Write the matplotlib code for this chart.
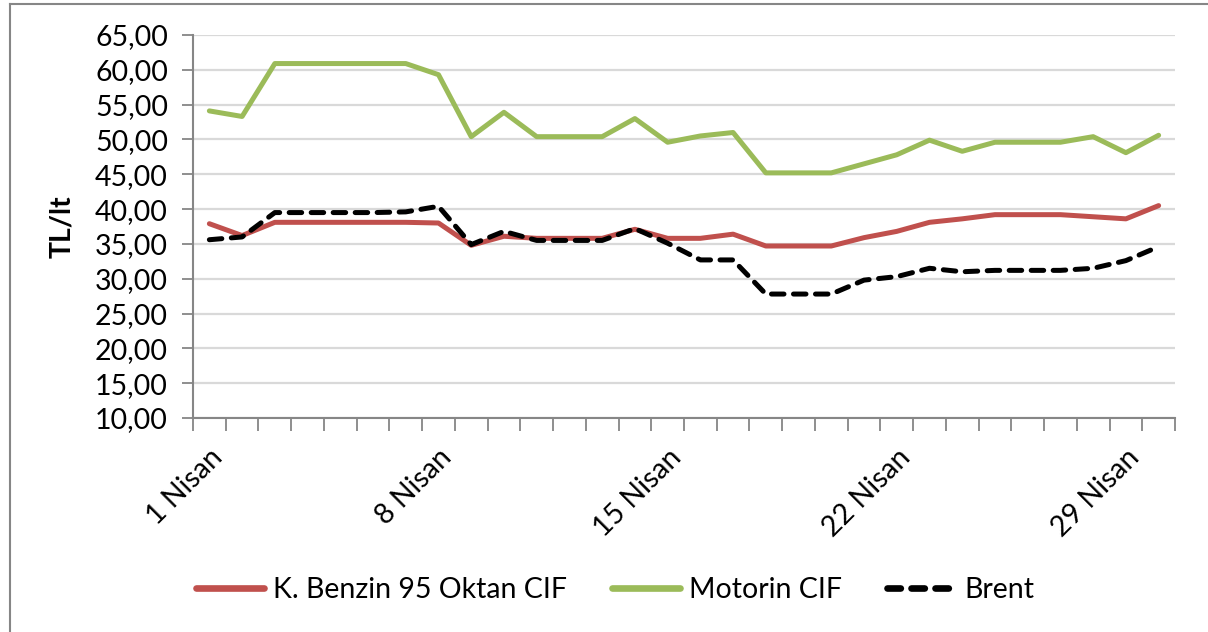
import matplotlib
matplotlib.use('Agg')
import matplotlib.pyplot as plt
from matplotlib.lines import Line2D
import numpy as np

# Data (TL/lt, 1-30 Nisan)
days = list(range(1, 31))
benzin = [37.9, 36.2, 38.1, 38.1, 38.1, 38.1, 38.1, 38.0, 34.8, 36.1,
          35.8, 35.8, 35.8, 37.1, 35.8, 35.8, 36.4, 34.7, 34.7, 34.7,
          35.9, 36.8, 38.1, 38.6, 39.2, 39.2, 39.2, 38.9, 38.6, 40.5]
motorin = [54.1, 53.3, 60.9, 60.9, 60.9, 60.9, 60.9, 59.3, 50.4, 53.9,
           50.4, 50.4, 50.4, 53.0, 49.6, 50.5, 51.0, 45.2, 45.2, 45.2,
           46.5, 47.8, 49.9, 48.3, 49.6, 49.6, 49.6, 50.4, 48.1, 50.6]
brent = [35.6, 36.0, 39.5, 39.5, 39.5, 39.5, 39.6, 40.4, 34.9, 36.8,
         35.5, 35.5, 35.5, 37.2, 35.1, 32.7, 32.7, 27.8, 27.8, 27.8,
         29.8, 30.3, 31.5, 31.0, 31.2, 31.2, 31.2, 31.5, 32.6, 34.6]
label_days = [1, 8, 15, 22, 29]
y_ticks = [10, 15, 20, 25, 30, 35, 40, 45, 50, 55, 60, 65]

plt.rcParams['font.family'] = ['Lato', 'DejaVu Sans']
FS = 20.5
AXIS_GRAY = '#868686'
GRID_GRAY = '#d9d9d9'

fig = plt.figure(figsize=(12.08, 6.32), dpi=100)
ax = fig.add_axes([193 / 1208, 1 - 418 / 632, 982 / 1208, 383 / 632])

x = np.arange(len(days))
ax.plot(x, benzin, color='#C0504D', lw=3.6, solid_capstyle='round',
        solid_joinstyle='round', label='K. Benzin 95 Oktan CIF', zorder=3)
ax.plot(x, motorin, color='#9BBB59', lw=3.6, solid_capstyle='round',
        solid_joinstyle='round', label='Motorin CIF', zorder=3)
ax.plot(x, brent, color='black', lw=3.6, dashes=(2.5, 1.9),
        dash_capstyle='round', label='Brent', zorder=4)

ax.set_xlim(-0.5, len(days) - 0.5)
ax.set_ylim(10, 65)

# y axis
ax.set_yticks(y_ticks)
ax.set_yticklabels([f'{v:.2f}'.replace('.', ',') for v in y_ticks], fontsize=FS)
ax.yaxis.grid(True, color=GRID_GRAY, lw=1.6)
ax.set_axisbelow(True)
ax.tick_params(axis='y', length=8, width=1.3, color=AXIS_GRAY, pad=10)
ax.set_ylabel('TL/lt', fontsize=FS, fontweight='bold', labelpad=14)

# x axis: tick marks between categories, labels on selected days
ax.set_xticks(np.arange(-0.5, len(days)), minor=True)
ax.set_xticks([days.index(d) for d in label_days])
ax.set_xticklabels([f'{d} Nisan' for d in label_days], fontsize=FS,
                   rotation=45, ha='right', rotation_mode='anchor')
ax.tick_params(axis='x', which='major', length=0, pad=19)
ax.tick_params(axis='x', which='minor', length=9, width=1.3, color=AXIS_GRAY)

for side in ['top', 'right']:
    ax.spines[side].set_visible(False)
for side in ['left', 'bottom']:
    ax.spines[side].set_color(AXIS_GRAY)
    ax.spines[side].set_linewidth(1.5)

# legend
handles = [
    Line2D([], [], color='#C0504D', lw=4.8, solid_capstyle='round'),
    Line2D([], [], color='#9BBB59', lw=4.8, solid_capstyle='round'),
    Line2D([], [], color='black', lw=4.8, dashes=(2.0, 1.6), dash_capstyle='round'),
]
fig.legend(handles, ['K. Benzin 95 Oktan CIF', 'Motorin CIF', 'Brent'],
           loc='center', bbox_to_anchor=(615 / 1208, 1 - 590 / 632), ncol=3,
           frameon=False, fontsize=FS, handlelength=2.4, handletextpad=0.3,
           columnspacing=1.6)

# chart area border (partially cropped in the reference)
fig.add_artist(Line2D([10 / 1208, 10 / 1208], [0, 1 - 4 / 632],
                      transform=fig.transFigure, color=AXIS_GRAY, lw=1.5))
fig.add_artist(Line2D([10 / 1208, 1], [1 - 4 / 632, 1 - 4 / 632],
                      transform=fig.transFigure, color=AXIS_GRAY, lw=1.5))

fig.savefig('out.png', dpi=100)
